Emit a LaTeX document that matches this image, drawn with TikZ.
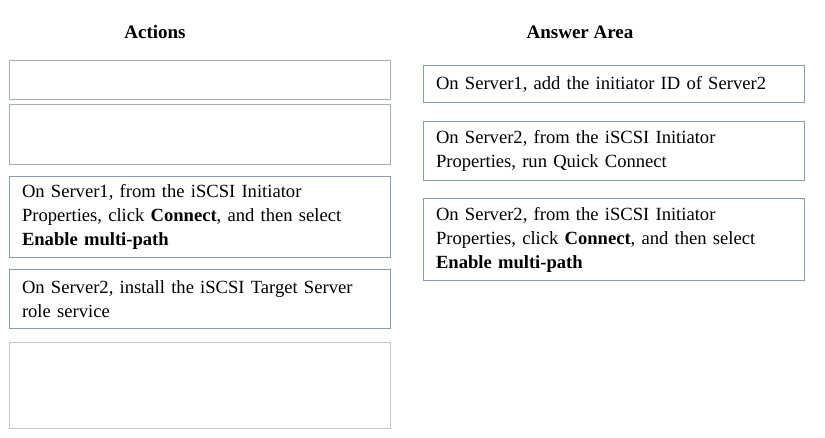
\documentclass[tikz,border=0pt]{standalone}
\usepackage{fontspec}
\setmainfont{Liberation Serif}
\begin{document}
\begin{tikzpicture}[x=1pt,y=1pt,
  cell/.style={draw=boxc, line width=1pt, rectangle, anchor=north west, minimum width=381pt,
    text width=356pt, inner xsep=12.5pt, inner ysep=0pt, align=left,
    font=\fontsize{18.6}{24}\selectfont},
  emptycell/.style={cell, draw=emptyc},
  head/.style={font=\fontsize{19}{22}\selectfont\bfseries}]
\definecolor{boxc}{HTML}{8C9BA8}
\definecolor{emptyc}{HTML}{A8B0B8}
\useasboundingbox[fill=white] (0,0) rectangle (825,-438);
\node[head] (hA) at (155,-32) {Actions};
\node[head] (hB) at (580,-32) {Answer Area};
\node[emptycell, minimum height=39pt] (a1) at (9,-60) {};
\node[emptycell, minimum height=60pt] (a2) at (9,-104) {};
\node[cell, minimum height=81pt] (a3) at (9,-176) {On Server1, from the iSCSI Initiator\\ Properties, click \textbf{Connect}, and then select\\ \textbf{Enable multi-path}};
\node[cell, minimum height=59pt] (a4) at (9,-269) {On Server2, install the iSCSI Target Server\\ role service};
\node[emptycell, draw=gray!45, minimum height=86pt] (a5) at (9,-342) {};
\node[cell, minimum height=37pt] (b1) at (423,-65) {On Server1, add the initiator ID of Server2};
\node[cell, minimum height=59pt] (b2) at (423,-121) {On Server2, from the iSCSI Initiator\\ Properties, run Quick Connect};
\node[cell, minimum height=82pt] (b3) at (423,-198) {On Server2, from the iSCSI Initiator\\ Properties, click \textbf{Connect}, and then select\\ \textbf{Enable multi-path}};
\end{tikzpicture}
\end{document}
